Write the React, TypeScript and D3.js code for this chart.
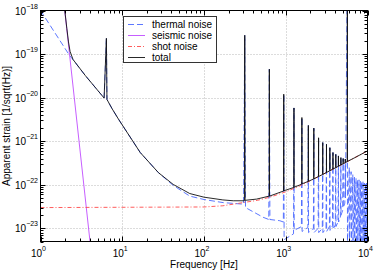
import * as d3 from "d3";

const W = 379;
const H = 271;

const freqDomain = [1, 1e4];
const ampDomain = [5e-24, 1e-18];

const xDecades = [1, 10, 100, 1000, 10000];
const yDecades = [1e-23, 1e-22, 1e-21, 1e-20, 1e-19, 1e-18];
const xTickExp = ["0", "1", "2", "3", "4"];
const yTickExp = ["\u221223", "\u221222", "\u221221", "\u221220", "\u221219", "\u221218"];

// seismic noise: steep power law, read at its ends
const seismicFreq = [1.0, 4.2];
const seismicAmp = [1.2e-13, 2.5e-24];

// shot noise
const shotFreq = [1, 100, 170, 300, 450, 640, 1000, 1500, 2000, 3000, 5000, 7000, 10000];
const shotAmp = [3.0e-23, 3.1e-23, 3.3e-23, 3.9e-23, 4.4e-23, 5.2e-23, 6.9e-23, 9.5e-23, 1.24e-22, 1.83e-22, 3.0e-22, 4.2e-22, 6.0e-22];

// thermal noise (pendulum tail, pendulum mode, violin modes with notches)
const thermalFreq = [
  1, 2.21, 3.54, 6.0, 6.4, 6.5, 7.5, 9.0, 16.6, 27.7, 42, 67, 100, 172, 300,
  305, 315, 322, 528, 620, 630, 640, 845, 935, 945, 955,
  1245, 1260, 1268, 1555, 1575, 1584, 1865, 1890, 1900, 2180, 2205, 2216,
  2490, 2520, 2532, 2800, 2835, 2848, 3110, 3150, 3164, 3420, 3465, 3480,
  3730, 3780, 3796, 4040, 4095, 4112, 4350, 4410, 4428, 4660, 4725, 4744,
  4970, 5040, 5060, 5280, 5355, 5376, 5670, 5692, 5985, 6008, 6300, 6325,
  6615, 6640, 6930, 6956, 7245, 7272, 7560, 7588, 7875, 7905, 8190, 8220,
  8505, 8536, 8820, 8852, 9135, 9168, 9450, 9484, 9765, 9800, 10000,
];
const thermalAmp = [
  1.0e-18, 1.0e-19, 3.2e-20, 9.8e-21, 2.3e-19, 9.1e-21, 5.6e-21, 3.2e-21, 5.5e-22, 1.9e-22, 9.7e-23, 5.5e-23, 4.6e-23, 3.9e-23, 3.6e-23,
  3.6e-23, 2.7e-19, 3.0e-23, 1.8e-23, 1.6e-23, 4.5e-20, 1.6e-23, 1.5e-23, 1.4e-23, 1.2e-20, 5.5e-24,
  7.5e-24, 5.8e-21, 9e-24, 1.1e-23, 3.5e-21, 8.5e-24, 1.05e-23, 2.3e-21, 8e-24, 1.0e-23, 2.0e-21, 8e-24,
  1.0e-23, 1.2e-21, 8e-24, 1.0e-23, 9.3e-22, 8e-24, 1.0e-23, 8.5e-22, 8.5e-24, 1.1e-23, 7.1e-22, 9e-24,
  1.15e-23, 5.5e-22, 9.5e-24, 1.2e-23, 5.0e-22, 1.1e-23, 1.4e-23, 4.6e-22, 1.4e-23, 1.8e-23, 4.2e-22, 2.0e-23,
  2.6e-23, 4.0e-22, 3.0e-23, 3.8e-23, 3.9e-22, 5.0e-23, 1.0e-17, 5e-24, 2.5e-22, 4.5e-24, 2.0e-22, 4.5e-24,
  1.7e-22, 4.5e-24, 1.5e-22, 4.5e-24, 1.4e-22, 4.5e-24, 1.3e-22, 4.5e-24, 1.3e-22, 4.5e-24, 1.2e-22, 4.5e-24,
  1.2e-22, 4.5e-24, 1.2e-22, 4.5e-24, 1.1e-22, 4.5e-24, 1.1e-22, 4.5e-24, 1.1e-22, 4.5e-24, 1.0e-22,
];

// total
const totalFreq = [
  1.9, 2.1, 2.2, 2.3, 2.5, 3.54, 6.0, 6.4, 6.5, 7.5, 9.0, 16.6, 27.7, 42, 67, 100, 170, 228,
  312, 315, 318, 440, 627, 630, 633, 940, 945, 950, 1255, 1260, 1265, 1480,
  1570, 1575, 1580, 1885, 1890, 1895, 2200, 2205, 2210, 2515, 2520, 2525,
  2830, 2835, 2840, 3145, 3150, 3155, 3460, 3465, 3470, 3775, 3780, 3785,
  4090, 4095, 4100, 4405, 4410, 4415, 4720, 4725, 4730, 5035, 5040, 5045,
  5350, 5355, 5360, 5665, 5670, 5675, 7000, 10000,
];
const totalAmp = [
  2.0e-18, 3.9e-19, 1.9e-19, 1.15e-19, 7.5e-20, 3.2e-20, 9.8e-21, 2.3e-19, 9.1e-21, 5.6e-21, 3.2e-21, 5.5e-22, 1.9e-22, 1.02e-22, 6.3e-23, 5.2e-23, 4.5e-23, 4.3e-23,
  4.3e-23, 2.7e-19, 4.4e-23, 4.7e-23, 5.5e-23, 4.5e-20, 5.5e-23, 7.2e-23, 1.2e-20, 7.3e-23, 8.7e-23, 5.8e-21, 8.8e-23, 9.9e-23,
  1.04e-22, 3.5e-21, 1.05e-22, 1.2e-22, 2.3e-21, 1.2e-22, 1.37e-22, 2.0e-21, 1.37e-22, 1.55e-22, 1.2e-21, 1.55e-22,
  1.73e-22, 9.3e-22, 1.73e-22, 1.92e-22, 8.5e-22, 1.92e-22, 2.1e-22, 7.1e-22, 2.1e-22, 2.3e-22, 5.5e-22, 2.3e-22,
  2.48e-22, 5.0e-22, 2.48e-22, 2.67e-22, 4.6e-22, 2.67e-22, 2.86e-22, 4.2e-22, 2.86e-22, 3.05e-22, 4.0e-22, 3.05e-22,
  3.24e-22, 3.9e-22, 3.24e-22, 3.43e-22, 1.0e-17, 3.43e-22, 4.2e-22, 6.0e-22,
];

const legendLabels = ["thermal noise", "seismic noise", "shot noise", "total"];

const COL_THERMAL = "#4a68ff";
const COL_SEISMIC = "#c04cff";
const COL_SHOT = "#ff4a4a";
const COL_TOTAL = "#111111";
const FONT = "'Liberation Sans', Arial, Helvetica, sans-serif";

const zip = (fs: number[], vs: number[]) => fs.map((f, i) => [f, vs[i]] as [number, number]);

export default function App() {
  const left = 40.5;
  const right = 367.5;
  const top = 10.5;
  const bottom = 241.5;

  const x = d3.scaleLog().domain(freqDomain).range([left, right]);
  const y = d3.scaleLog().domain(ampDomain).range([bottom, top]);

  const line = d3
    .line<[number, number]>()
    .x((d) => x(d[0]))
    .y((d) => y(d[1]));

  const xMinor: number[] = [];
  xDecades.slice(0, -1).forEach((d) => {
    for (let k = 2; k <= 9; k++) xMinor.push(d * k);
  });
  const yMinor: number[] = [];
  [1e-24, 1e-23, 1e-22, 1e-21, 1e-20, 1e-19].forEach((d) => {
    for (let k = 2; k <= 9; k++) {
      const v = d * k;
      if (v >= ampDomain[0] * 0.999 && v < ampDomain[1]) yMinor.push(v);
    }
  });

  const grid = "#b8b8b8";

  const styles = [
    { stroke: COL_THERMAL, dash: "6,3" },
    { stroke: COL_SEISMIC, dash: "none" },
    { stroke: COL_SHOT, dash: "4,2,1,2" },
    { stroke: COL_TOTAL, dash: "none" },
  ];

  return (
    <svg
      width={W}
      height={H}
      viewBox={`0 0 ${W} ${H}`}
      style={{ position: "absolute", left: 0, top: 0, background: "#fff" }}
      fontFamily={FONT}
    >
      <defs>
        <clipPath id="plot">
          <rect x={left} y={top} width={right - left} height={bottom - top} />
        </clipPath>
      </defs>
      <rect x={0} y={0} width={W} height={H} fill="#fff" />

      {/* grid */}
      <g stroke={grid} strokeWidth={1} strokeDasharray="1,2">
        {xDecades.slice(1, -1).map((d) => (
          <line key={"gx" + d} x1={Math.round(x(d)) + 0.5} x2={Math.round(x(d)) + 0.5} y1={top} y2={bottom} />
        ))}
        {yDecades.slice(0, -1).map((d) => (
          <line key={"gy" + d} x1={left} x2={right} y1={Math.round(y(d)) + 0.5} y2={Math.round(y(d)) + 0.5} />
        ))}
      </g>

      {/* series */}
      <g clipPath="url(#plot)" fill="none" strokeLinejoin="miter">
        <path d={line(zip(thermalFreq, thermalAmp)) || ""} stroke={COL_THERMAL} strokeWidth={0.9} strokeDasharray="6,3" />
        <path d={line(zip(seismicFreq, seismicAmp)) || ""} stroke={COL_SEISMIC} strokeWidth={0.9} />
        <path d={line(zip(shotFreq, shotAmp)) || ""} stroke={COL_SHOT} strokeWidth={0.9} strokeDasharray="4,2,1,2" />
        <path d={line(zip(totalFreq, totalAmp)) || ""} stroke={COL_TOTAL} strokeWidth={0.9} />
      </g>

      {/* ticks */}
      <g stroke="#000" strokeWidth={1}>
        {xDecades.map((d) => {
          const px = Math.round(x(d)) + 0.5;
          return (
            <g key={"tx" + d}>
              <line x1={px} x2={px} y1={bottom} y2={bottom - 5} />
              <line x1={px} x2={px} y1={top} y2={top + 5} />
            </g>
          );
        })}
        {xMinor.map((d) => {
          const px = Math.round(x(d)) + 0.5;
          return (
            <g key={"mx" + d}>
              <line x1={px} x2={px} y1={bottom} y2={bottom - 3} />
              <line x1={px} x2={px} y1={top} y2={top + 3} />
            </g>
          );
        })}
        {yDecades.map((d) => {
          const py = Math.round(y(d)) + 0.5;
          return (
            <g key={"ty" + d}>
              <line x1={left} x2={left + 5} y1={py} y2={py} />
              <line x1={right} x2={right - 5} y1={py} y2={py} />
            </g>
          );
        })}
        {yMinor.map((d) => {
          const py = Math.round(y(d)) + 0.5;
          return (
            <g key={"my" + d}>
              <line x1={left} x2={left + 3} y1={py} y2={py} />
              <line x1={right} x2={right - 3} y1={py} y2={py} />
            </g>
          );
        })}
      </g>

      {/* frame */}
      <rect x={left} y={top} width={right - left} height={bottom - top} fill="none" stroke="#000" strokeWidth={1} />

      {/* tick labels */}
      <g fontSize={10} fill="#000">
        {xDecades.map((d, i) => (
          <text key={"lx" + d} x={x(d) - 2} y={257} textAnchor="middle">
            10
            <tspan dy={-6} fontSize={7}>
              {xTickExp[i]}
            </tspan>
          </text>
        ))}
        {yDecades.map((d, i) => (
          <text key={"ly" + d} x={38} y={y(d) + 4} textAnchor="end">
            10
            <tspan dy={-6} fontSize={7}>
              {yTickExp[i]}
            </tspan>
          </text>
        ))}
      </g>

      {/* axis titles */}
      <text x={(left + right) / 2} y={267.5} textAnchor="middle" fontSize={10}>
        Frequency [Hz]
      </text>
      <text transform={`translate(10,${(top + bottom) / 2}) rotate(-90)`} textAnchor="middle" fontSize={10}>
        Apparent strain [1/sqrt(Hz)]
      </text>

      {/* legend */}
      <g>
        <rect x={123.5} y={16.5} width={93} height={46} fill="#fff" stroke="#333" strokeWidth={1} />
        {legendLabels.map((lab, i) => {
          const ly = 24.5 + i * 11;
          return (
            <g key={lab}>
              <line
                x1={128}
                x2={145}
                y1={ly}
                y2={ly}
                stroke={styles[i].stroke}
                strokeWidth={0.9}
                strokeDasharray={styles[i].dash}
              />
              <text x={152} y={ly + 3.5} fontSize={10}>
                {lab}
              </text>
            </g>
          );
        })}
      </g>
    </svg>
  );
}
